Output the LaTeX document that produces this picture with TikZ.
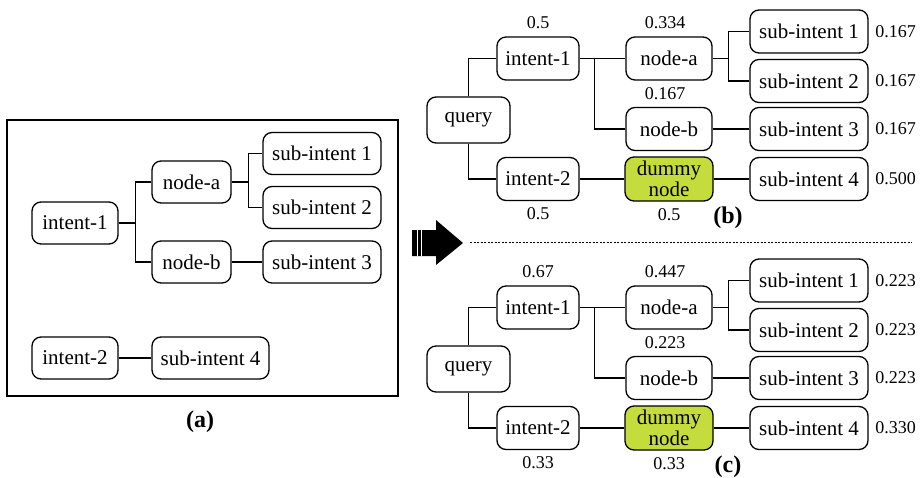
\documentclass[tikz,border=0pt]{standalone}
\usepackage{fontspec}
\setmainfont{Liberation Serif}
\usetikzlibrary{positioning}
\definecolor{dmyfill}{HTML}{C4DC3C}
\tikzset{
  box/.style={draw,rounded corners=9pt,line width=1.3pt,minimum width=#1,
    minimum height=42pt,inner sep=0pt,font=\fontsize{21}{21}\selectfont},
  box/.default=84pt,
  wt/.style={inner sep=0pt,font=\fontsize{18}{18}\selectfont},
  captxt/.style={inner sep=0pt,font=\fontsize{24}{24}\selectfont\bfseries}}

\begin{document}
\begin{tikzpicture}[x=1pt,y=-1pt,line width=1.3pt]
  \useasboundingbox (0,0) rectangle (921,477);
  % (a) the plain intent tree
  \draw[line width=2.3pt] (7,120) rectangle (398,396);
  \node[box=86pt] (a-i1) at (75,223) {intent-1};
  \node[box=79pt] (a-na) at (191.5,182) {node-a};
  \node[box=79pt] (a-nb) at (191.5,262) {node-b};
  \node[box=118pt] (a-s1) at (322,153.5) {sub-intent 1};
  \node[box=118pt] (a-s2) at (322,207.5) {sub-intent 2};
  \node[box=118pt] (a-s3) at (322,262) {sub-intent 3};
  \node[box=86pt] (a-i2) at (75,358) {intent-2};
  \node[box=117pt] (a-s4) at (210.5,358) {sub-intent 4};
  \draw (a-i1.east) -- ++(17,0) |- (a-na.west);
  \draw (a-i1.east) -- ++(17,0) |- (a-nb.west);
  \draw (a-na.east) -- ++(17,0) |- (a-s1.west);
  \draw (a-na.east) -- ++(17,0) |- (a-s2.west);
  \draw (a-nb) -- (a-s3);
  \draw (a-i2) -- (a-s4);
  \node[captxt] (a-cap) at (200,422) {(a)};
  % striped block arrow and separator
  \fill (412,230) -- (436,230) -- (436,220) -- (463,243) -- (436,265)
    -- (436,256) -- (412,256) -- cycle;
  \draw[white,line width=0.8pt] (417,230) -- (417,256) (421,230) -- (421,256);
  \draw[line width=0.8pt,dash pattern=on 2pt off 1.5pt] (470,242) -- (912,242);
  % (b) and (c) weighted trees
  \foreach \p/\dy/\wi/\wa/\wb/\wj/\wm/\wsa/\wsb/\wsc/\wsd in
    {b/0/0.5/0.334/0.167/0.5/0.5/0.167/0.167/0.167/0.500,
     c/249/0.67/0.447/0.223/0.33/0.33/0.223/0.223/0.223/0.330}{
    \node[box=83pt,minimum height=46pt] (\p-q) at (468.5,120+\dy) {query};
    \node[box=82pt,minimum height=43pt] (\p-i1) at (538,58.5+\dy) {intent-1};
    \node[box=82pt,minimum height=43pt] (\p-i2) at (538,179+\dy) {intent-2};
    \node[box=86pt,minimum height=43pt] (\p-na) at (669,58.5+\dy) {node-a};
    \node[box=86pt,minimum height=43pt] (\p-nb) at (669,129+\dy) {node-b};
    \node[box=88pt,minimum height=44pt,fill=dmyfill,align=center] (\p-d)
      at (669,179+\dy) {dummy\\node};
    \node[box=118pt,minimum height=43pt] (\p-s1) at (809,31.5+\dy) {sub-intent 1};
    \node[box=118pt,minimum height=43pt] (\p-s2) at (809,81+\dy) {sub-intent 2};
    \node[box=118pt,minimum height=43pt] (\p-s3) at (809,129+\dy) {sub-intent 3};
    \node[box=118pt,minimum height=43pt] (\p-s4) at (809,179+\dy) {sub-intent 4};
    \draw (\p-q.north) |- (\p-i1.west);
    \draw (\p-q.south) |- (\p-i2.west);
    \draw (\p-i1) -- (\p-na);
    \draw (\p-i1.east) -- ++(15,0) |- (\p-nb.west);
    \draw (\p-na.east) -- ++(16,0) |- (\p-s1.west);
    \draw (\p-na.east) -- ++(16,0) |- (\p-s2.west);
    \draw (\p-nb) -- (\p-s3);
    \draw (\p-i2) -- (\p-d) -- (\p-s4);
    \node[wt,above=7pt of \p-i1] (\p-wi1) {\wi};
    \node[wt,above=7pt of \p-na,xshift=-4pt] (\p-wna) {\wa};
    \node[wt,above=6pt of \p-nb,xshift=-4pt] (\p-wnb) {\wb};
    \node[wt,below=6pt of \p-i2] (\p-wi2) {\wj};
    \node[wt,below=6pt of \p-d] (\p-wd) {\wm};
    \node[wt,right=6pt of \p-s1] (\p-ws1) {\wsa};
    \node[wt,right=6pt of \p-s2] (\p-ws2) {\wsb};
    \node[wt,right=6pt of \p-s3] (\p-ws3) {\wsc};
    \node[wt,right=6pt of \p-s4] (\p-ws4) {\wsd};
    \node[captxt] (\p-cap) at (728,218+\dy) {(\p)};
  }
\end{tikzpicture}
\end{document}
